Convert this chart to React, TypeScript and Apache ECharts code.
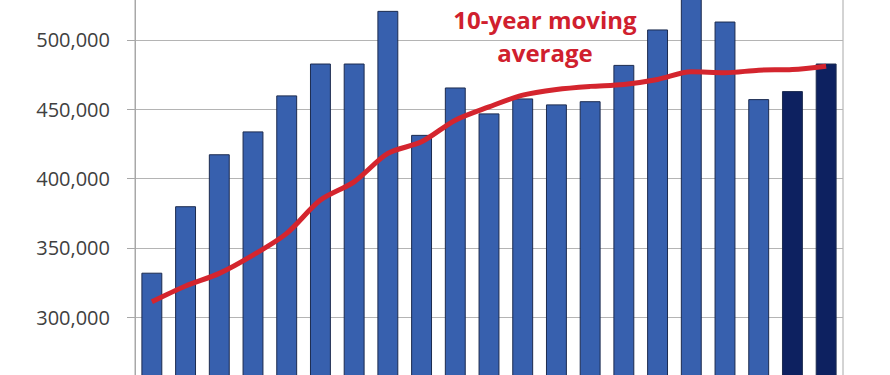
import React, { useEffect, useRef } from "react";
import * as echarts from "echarts";

const years: string[] = [
  "2003", "2004", "2005", "2006", "2007", "2008", "2009", "2010", "2011", "2012", "2013",
  "2014", "2015", "2016", "2017", "2018", "2019", "2020", "2021", "2022", "2023",
];
const annualValues: number[] = [
  332000, 380000, 417500, 434000, 460000, 483000, 483000, 521000, 431500, 465700, 447000,
  457800, 453500, 455800, 482000, 507600, 534000, 513300, 457300, 463100, 483000,
];
const highlighted: boolean[] = [
  false, false, false, false, false, false, false, false, false, false, false,
  false, false, false, false, false, false, false, false, true, true,
];
const movingAverage: number[] = [
  311000, 322400, 331500, 344700, 360400, 384400, 397600, 418100, 426500, 442100, 451700,
  460200, 464300, 466500, 467900, 471500, 477000, 476300, 478200, 478700, 481100,
];
const annotation = "10-year moving\naverage";

const OFFSET = 100;

export default function App() {
  const ref = useRef<HTMLDivElement>(null);
  useEffect(() => {
    if (!ref.current) return;
    const chart = echarts.init(ref.current, null, { renderer: "svg" });
    chart.setOption({
      animation: false,
      backgroundColor: "#ffffff",
      grid: {
        left: 135,
        right: 47,
        top: 70.7,
        bottom: 88.7,
        show: true,
        borderColor: "#a8a8a8",
        borderWidth: 1,
        backgroundColor: "transparent",
      },
      xAxis: {
        type: "category",
        data: years,
        axisLabel: { show: false },
        axisTick: { show: false },
        axisLine: { show: false },
      },
      yAxis: {
        type: "value",
        min: 250000,
        max: 550000,
        interval: 50000,
        axisLine: { show: true, lineStyle: { color: "#a8a8a8", width: 1 } },
        axisTick: { show: true, length: 8, lineStyle: { color: "#a8a8a8" } },
        splitLine: { show: true, lineStyle: { color: "#b4b4b4", width: 1 } },
        axisLabel: {
          margin: 25,
          color: "#404040",
          fontFamily: "Open Sans",
          fontSize: 20,
          showMinLabel: false,
          showMaxLabel: false,
          formatter: (v: number) => v.toLocaleString("en-US"),
        },
      },
      series: [
        {
          type: "bar",
          barCategoryGap: "38%",
          data: annualValues.map((v, i) => ({
            value: v,
            itemStyle: { color: highlighted[i] ? "#0d2160" : "#3760ae" },
          })),
          itemStyle: { borderColor: "#1c2b4f", borderWidth: 1 },
        },
        {
          type: "line",
          data: movingAverage,
          smooth: 0.3,
          showSymbol: false,
          symbol: "none",
          lineStyle: { color: "#d4252e", width: 5 },
          z: 5,
        },
      ],
      graphic: [
        {
          type: "text",
          x: 545,
          y: OFFSET + 3,
          style: {
            text: annotation,
            fill: "#d0202e",
            fontFamily: "Open Sans",
            fontWeight: "bold",
            fontSize: 24,
            lineHeight: 33,
            textAlign: "center",
            textVerticalAlign: "top",
          },
          z: 10,
        },
      ],
    });
    return () => chart.dispose();
  }, []);
  return (
    <div
      style={{
        position: "fixed",
        left: 0,
        top: 0,
        width: 890,
        height: 375,
        overflow: "hidden",
        background: "#ffffff",
      }}
    >
      <div
        ref={ref}
        style={{ position: "absolute", left: 0, top: -OFFSET, width: 890, height: 575 }}
      />
    </div>
  );
}
